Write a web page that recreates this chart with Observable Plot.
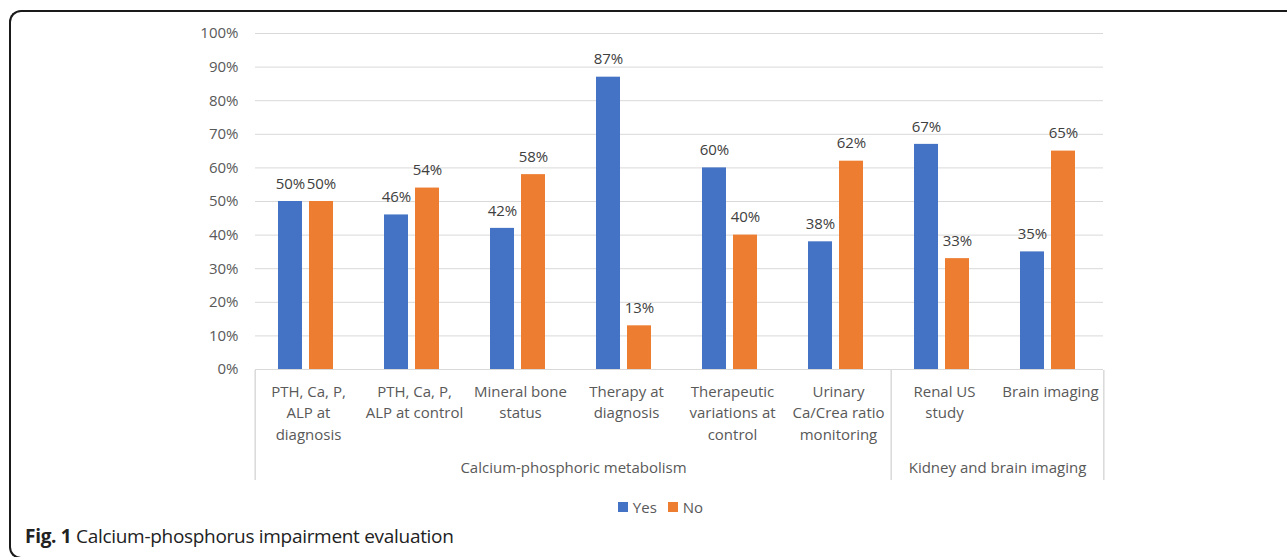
<!DOCTYPE html>
<html>
<head>
<meta charset="utf-8">
<script src="https://cdn.jsdelivr.net/npm/d3@7"></script>
<script src="https://cdn.jsdelivr.net/npm/@observablehq/plot@0.6"></script>
<style>
  html, body { margin: 0; padding: 0; background: #fff; overflow: hidden; }
  #wrap { position: relative; width: 1287px; height: 557px; font-family: "Open Sans", sans-serif; overflow: hidden; }
  #border { position: absolute; left: 9px; top: 10px; width: 1300px; height: 549px;
            border: 2px solid #1a1a1a; border-right: none; border-radius: 12px 0 0 12px; box-sizing: border-box; }
  #chart { position: absolute; left: 0; top: 0; }
  #legend { position: absolute; top: 497px; left: 0; width: 1287px; display: flex; justify-content: center;
            padding-left: 34px; box-sizing: border-box; font-size: 15px; color: #595959; gap: 11px; }
  #legend .item { display: flex; align-items: center; gap: 5px; }
  #legend .sw { width: 10px; height: 10px; display: inline-block; }
  #caption { position: absolute; left: 25px; top: 523px; font-size: 19px; color: #222; letter-spacing: -0.3px; }
  #caption b { font-weight: 700; }
</style>
</head>
<body>
<div id="wrap">
  <div id="border"></div>
  <div id="chart"></div>
  <div id="legend"></div>
  <div id="caption"><b>Fig. 1</b> Calcium-phosphorus impairment evaluation</div>
</div>
<script>
// ---- data ----
const categories = ["PTH diagnosis", "PTH control", "Mineral bone", "Therapy diagnosis",
                    "Therapeutic variations", "Urinary ratio", "Renal US", "Brain imaging"];
const categoryLabels = ["PTH, Ca, P,\nALP at\ndiagnosis", "PTH, Ca, P,\nALP at control", "Mineral bone\nstatus",
                        "Therapy at\ndiagnosis", "Therapeutic\nvariations at\ncontrol", "Urinary\nCa/Crea ratio\nmonitoring",
                        "Renal US\nstudy", "Brain imaging"];
const series = ["Yes", "No"];
const yesValues = [50, 46, 42, 87, 60, 38, 67, 35];
const noValues  = [50, 54, 58, 13, 40, 62, 33, 65];
const groupNames = ["Calcium-phosphoric metabolism", "Kidney and brain imaging"];
const groupOf = [0, 0, 0, 0, 0, 0, 1, 1];
const yTicks = [0, 10, 20, 30, 40, 50, 60, 70, 80, 90, 100];
const colors = ["#4472c4", "#ed7d31"];

// ---- build rows ----
const rows = [];
categories.forEach((c, i) => {
  rows.push({cat: c, series: "Yes", value: yesValues[i]});
  rows.push({cat: c, series: "No", value: noValues[i]});
});
const labelOf = new Map(categories.map((c, i) => [c, categoryLabels[i]]));

// group boundaries
const leftBounds = [], rightBounds = [], groupTitles = [];
groupNames.forEach((g, gi) => {
  const idx = categories.map((c, i) => i).filter(i => groupOf[i] === gi);
  leftBounds.push({cat: categories[idx[0]]});
  if (gi === groupNames.length - 1) rightBounds.push({cat: categories[idx[idx.length - 1]]});
  const n = idx.length;
  groupTitles.push({cat: categories[idx[Math.floor((n - 1) / 2)]], label: g, even: n % 2 === 0});
});

const W = 1287, ML = 252, MR = 182, MT = 33, MB = 120, H = 489;
const bandW = (W - ML - MR) / categories.length;
const axisDepth = 111;
const textColor = "#595959";

const chart = Plot.plot({
  width: W,
  height: H,
  marginLeft: ML,
  marginRight: MR,
  marginTop: MT,
  marginBottom: MB,
  style: {fontFamily: "Open Sans, sans-serif", fontSize: "15px", color: textColor, background: "transparent"},
  fx: {domain: categories, padding: 0},
  x: {domain: series, paddingInner: 0.226, paddingOuter: 0.8, align: 0.46, axis: null},
  y: {domain: [0, 100], axis: null},
  color: {domain: series, range: colors},
  marks: [
    Plot.gridY(yTicks, {stroke: "#d9d9d9", strokeOpacity: 1, strokeWidth: 1}),
    Plot.axisY(yTicks, {tickSize: 0, tickPadding: 17, tickFormat: d => d + "%", fontSize: 15, fill: textColor, label: null}),
    Plot.axisFx({anchor: "bottom", tickSize: 0, tickPadding: 12, tickFormat: d => labelOf.get(d), fontSize: 15,
                 lineHeight: 1.43, fill: textColor, label: null}),
    Plot.barY(rows, {fx: "cat", x: "series", y: "value", fill: "series"}),
    Plot.text(rows, {fx: "cat", x: "series", y: "value", text: d => d.value + "%", dy: -17.5,
                     fill: "#404040", fontSize: 15}),
    Plot.ruleY([0], {stroke: "#d9d9d9", strokeWidth: 1}),
    Plot.ruleX(leftBounds, {fx: "cat", x: null, dx: -bandW / 2, insetTop: (H - MT - MB) + 1, insetBottom: -axisDepth,
                            stroke: "#d9d9d9", strokeWidth: 1.5}),
    Plot.ruleX(rightBounds, {fx: "cat", x: null, dx: bandW / 2, insetTop: (H - MT - MB) + 1, insetBottom: -axisDepth,
                             stroke: "#d9d9d9", strokeWidth: 1.5}),
    Plot.text(groupTitles.filter(d => d.even), {fx: "cat", text: "label", frameAnchor: "bottom-right", textAnchor: "middle",
                                                dy: 103, fontSize: 15, fill: textColor}),
    Plot.text(groupTitles.filter(d => !d.even), {fx: "cat", text: "label", frameAnchor: "bottom", textAnchor: "middle",
                                                 dy: 103, fontSize: 15, fill: textColor})
  ]
});
document.getElementById("chart").appendChild(chart);

// legend
const legend = document.getElementById("legend");
series.forEach((s, i) => {
  const item = document.createElement("span");
  item.className = "item";
  const sw = document.createElement("span");
  sw.className = "sw";
  sw.style.background = colors[i];
  item.appendChild(sw);
  item.appendChild(document.createTextNode(s));
  legend.appendChild(item);
});
</script>
</body>
</html>
